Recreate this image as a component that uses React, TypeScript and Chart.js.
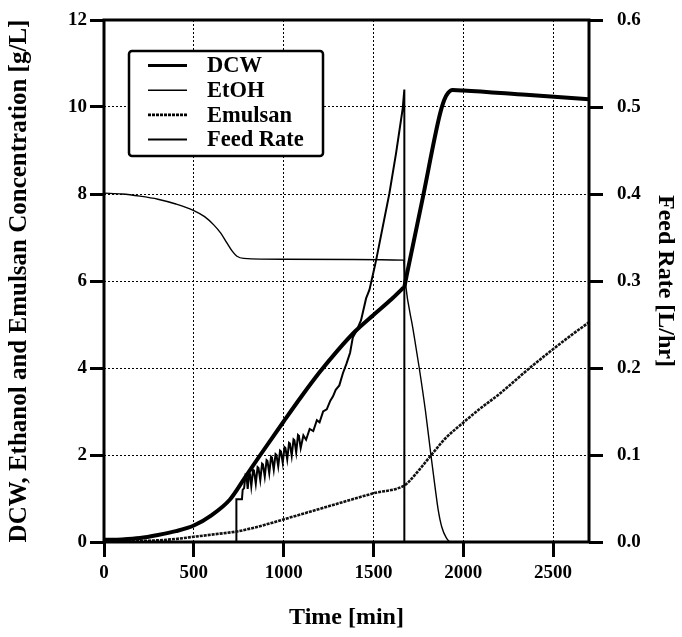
import React, { useEffect, useRef } from "react";
import { Chart, registerables } from "chart.js";

Chart.register(...registerables);

// ---- axis ticks ----
const timeTicks = [0, 500, 1000, 1500, 2000, 2500];
const timeMin = 0;
const timeMax = 2700;
const concMax = 12;
const concStep = 2;
const feedMax = 0.6;
const feedStep = 0.1;

// ---- series labels ----
const seriesLabels = ["DCW", "EtOH", "Emulsan", "Feed Rate"];

// ---- DCW [g/L] ----
const dcwTime = [0, 100, 200, 300, 400, 500, 600, 700, 780, 870, 1000, 1100, 1200, 1300, 1400, 1500, 1600, 1660, 1672, 1685, 1774, 1867, 1894, 1915, 1940, 2000, 2350, 2700];
const dcwConc = [0.05, 0.06, 0.09, 0.16, 0.25, 0.38, 0.62, 0.97, 1.45, 2.0, 2.77, 3.35, 3.9, 4.4, 4.85, 5.22, 5.58, 5.82, 5.87, 6.13, 7.9, 9.78, 10.16, 10.32, 10.39, 10.38, 10.28, 10.18];

// ---- EtOH [g/L] ----
const etohTime = [0, 100, 200, 300, 400, 500, 560, 611, 650, 685, 715, 740, 778, 1000, 1668, 1678, 1720, 1755, 1790, 1820, 1845, 1860, 1880, 1905, 1930, 2700];
const etohConc = [8.02, 8.0, 7.95, 7.88, 7.77, 7.62, 7.48, 7.29, 7.1, 6.87, 6.68, 6.57, 6.52, 6.5, 6.48, 5.95, 4.9, 4.0, 3.0, 2.0, 1.2, 0.75, 0.35, 0.1, 0.0, 0.0];

// ---- Emulsan [g/L] ----
const emulsanTime = [0, 250, 400, 500, 600, 750, 900, 1000, 1250, 1500, 1672, 1700, 1755, 1830, 1900, 1993, 2089, 2200, 2367, 2493, 2600, 2700];
const emulsanConc = [0.02, 0.03, 0.07, 0.12, 0.17, 0.25, 0.4, 0.52, 0.82, 1.12, 1.3, 1.4, 1.66, 2.04, 2.38, 2.72, 3.05, 3.4, 3.99, 4.41, 4.75, 5.05];

// ---- Feed rate [L/hr] ----
const feedTime = [0, 737, 737, 768, 772, 780, 788, 793, 800, 808, 813, 820, 830, 835, 845, 855, 860, 870, 880, 885, 895, 905, 910, 920, 930, 935, 945, 955, 960, 970, 980, 985, 995, 1005, 1010, 1020, 1030, 1035, 1045, 1055, 1060, 1070, 1080, 1085, 1095, 1110, 1125, 1145, 1165, 1185, 1200, 1220, 1240, 1260, 1275, 1290, 1310, 1330, 1350, 1370, 1385, 1405, 1431, 1459, 1478, 1500, 1515, 1552, 1589, 1626, 1663, 1672, 1672, 2700];
const feedRate = [0, 0, 0.049, 0.049, 0.06, 0.062, 0.077, 0.076, 0.061, 0.079, 0.078, 0.064, 0.083, 0.082, 0.067, 0.086, 0.085, 0.071, 0.09, 0.089, 0.075, 0.094, 0.093, 0.079, 0.098, 0.097, 0.083, 0.101, 0.1, 0.087, 0.105, 0.104, 0.091, 0.109, 0.108, 0.095, 0.114, 0.113, 0.099, 0.118, 0.117, 0.103, 0.123, 0.122, 0.108, 0.1225, 0.1175, 0.13, 0.1275, 0.14, 0.1375, 0.15, 0.1525, 0.1625, 0.1675, 0.175, 0.18, 0.194, 0.205, 0.2175, 0.235, 0.2425, 0.255, 0.28, 0.29, 0.31, 0.324, 0.3625, 0.401, 0.447, 0.4985, 0.52, 0, 0];

const xTitle = "Time [min]";
const yTitle = "DCW, Ethanol and Emulsan Concentration [g/L]";
const y1Title = "Feed Rate [L/hr]";

const toPoints = (xs: number[], ys: number[]) => xs.map((x, i) => ({ x, y: ys[i] }));

const SERIF = '"Liberation Serif", "Times New Roman", Times, serif';

export default function App() {
  const ref = useRef<HTMLCanvasElement | null>(null);

  useEffect(() => {
    if (!ref.current) return;

    const framePlugin = {
      id: "frame",
      afterDraw(chart: any) {
        const { ctx, chartArea } = chart;
        ctx.save();
        ctx.strokeStyle = "#000";
        ctx.lineWidth = 3;
        ctx.setLineDash([]);
        ctx.strokeRect(chartArea.left, chartArea.top, chartArea.right - chartArea.left, chartArea.bottom - chartArea.top);
        ctx.restore();
      },
    };

    const legendPlugin = {
      id: "insideLegend",
      afterDraw(chart: any) {
        const { ctx, chartArea } = chart;
        const bx = chartArea.left + 25;
        const by = chartArea.top + 31;
        const bw = 194;
        const bh = 105;
        ctx.save();
        ctx.fillStyle = "#fff";
        ctx.strokeStyle = "#000";
        ctx.lineWidth = 2.5;
        ctx.setLineDash([]);
        ctx.beginPath();
        if ((ctx as any).roundRect) (ctx as any).roundRect(bx, by, bw, bh, 3);
        else ctx.rect(bx, by, bw, bh);
        ctx.fill();
        ctx.stroke();
        const rowH = 24.7;
        chart.data.datasets.forEach((ds: any, i: number) => {
          const y = by + 14.5 + i * rowH;
          ctx.save();
          ctx.strokeStyle = "#000";
          ctx.lineWidth = Math.min(ds.borderWidth, 3);
          ctx.setLineDash(ds.borderDash || []);
          ctx.beginPath();
          ctx.moveTo(bx + 19, y);
          ctx.lineTo(bx + 58, y);
          ctx.stroke();
          ctx.restore();
          ctx.fillStyle = "#000";
          ctx.font = `bold 22.5px ${SERIF}`;
          ctx.textBaseline = "middle";
          ctx.textAlign = "left";
          ctx.fillText(ds.label, bx + 78, y + 1);
        });
        ctx.restore();
      },
    };

    const tickFont = { family: SERIF, size: 19, weight: "bold" as const };
    const titleFont = { family: SERIF, size: 24, weight: "bold" as const };

    const chart = new Chart(ref.current, {
      type: "line",
      data: {
        datasets: [
          {
            label: seriesLabels[0],
            data: toPoints(dcwTime, dcwConc),
            borderColor: "#000",
            borderWidth: 4,
            yAxisID: "y",
            cubicInterpolationMode: "monotone",
          },
          {
            label: seriesLabels[1],
            data: toPoints(etohTime, etohConc),
            borderColor: "#000",
            borderWidth: 1.4,
            yAxisID: "y",
            cubicInterpolationMode: "monotone",
          },
          {
            label: seriesLabels[2],
            data: toPoints(emulsanTime, emulsanConc),
            borderColor: "#111",
            borderWidth: 2.6,
            borderDash: [3, 1],
            yAxisID: "y",
            cubicInterpolationMode: "monotone",
          },
          {
            label: seriesLabels[3],
            data: toPoints(feedTime, feedRate),
            borderColor: "#000",
            borderWidth: 2,
            yAxisID: "y1",
            tension: 0,
          },
        ],
      },
      options: {
        animation: false,
        responsive: false,
        maintainAspectRatio: false,
        layout: { padding: { top: 20, left: 0, right: 0, bottom: 0 } },
        elements: { point: { radius: 0 } },
        plugins: { legend: { display: false }, tooltip: { enabled: false } },
        scales: {
          x: {
            type: "linear",
            position: "bottom",
            min: timeMin,
            max: timeMax,
            afterBuildTicks: (s: any) => {
              s.ticks = timeTicks.map((v) => ({ value: v }));
            },
            afterFit: (s: any) => {
              s.height = 95;
              s.paddingLeft = 0;
              s.paddingRight = 0;
            },
            ticks: { color: "#000", font: tickFont, padding: 5, maxRotation: 0, autoSkip: false, callback: (v: any) => String(v) },
            grid: { color: "#000", lineWidth: 1, drawTicks: true, tickLength: 15, tickWidth: 3, tickColor: "#000" },
            border: { display: false, dash: [2, 2] },
            title: { display: true, text: xTitle, color: "#000", font: titleFont, padding: { top: 0, bottom: 5 } },
          },
          y: {
            type: "linear",
            position: "left",
            min: 0,
            max: concMax,
            afterFit: (s: any) => {
              s.width = 104;
              s.paddingTop = 0;
              s.paddingBottom = 0;
            },
            ticks: { stepSize: concStep, color: "#000", font: tickFont, padding: 3 },
            grid: { color: "#000", lineWidth: 1, drawTicks: true, tickLength: 14, tickWidth: 3, tickColor: "#000" },
            border: { display: false, dash: [2, 2] },
            title: { display: true, text: yTitle, color: "#000", font: { ...titleFont, size: 25 }, padding: { top: 5, bottom: 0 } },
          },
          y1: {
            type: "linear",
            position: "right",
            min: 0,
            max: feedMax,
            afterFit: (s: any) => {
              s.width = 93;
              s.paddingTop = 0;
              s.paddingBottom = 0;
            },
            ticks: {
              stepSize: feedStep,
              color: "#000",
              font: tickFont,
              padding: 14,
              callback: (v: any) => Number(v).toFixed(1),
            },
            grid: { drawOnChartArea: false, drawTicks: true, tickLength: 14, tickWidth: 3, tickColor: "#000" },
            border: { display: false },
            title: { display: true, text: y1Title, color: "#000", font: titleFont, padding: { top: 2, bottom: 0 } },
          },
        },
      },
      plugins: [framePlugin, legendPlugin],
    } as any);

    return () => chart.destroy();
  }, []);

  return (
    <div style={{ position: "absolute", left: 0, top: 0, width: 682, height: 637, background: "#fff" }}>
      <canvas ref={ref} width={682} height={637} style={{ display: "block", width: 682, height: 637 }} />
    </div>
  );
}
